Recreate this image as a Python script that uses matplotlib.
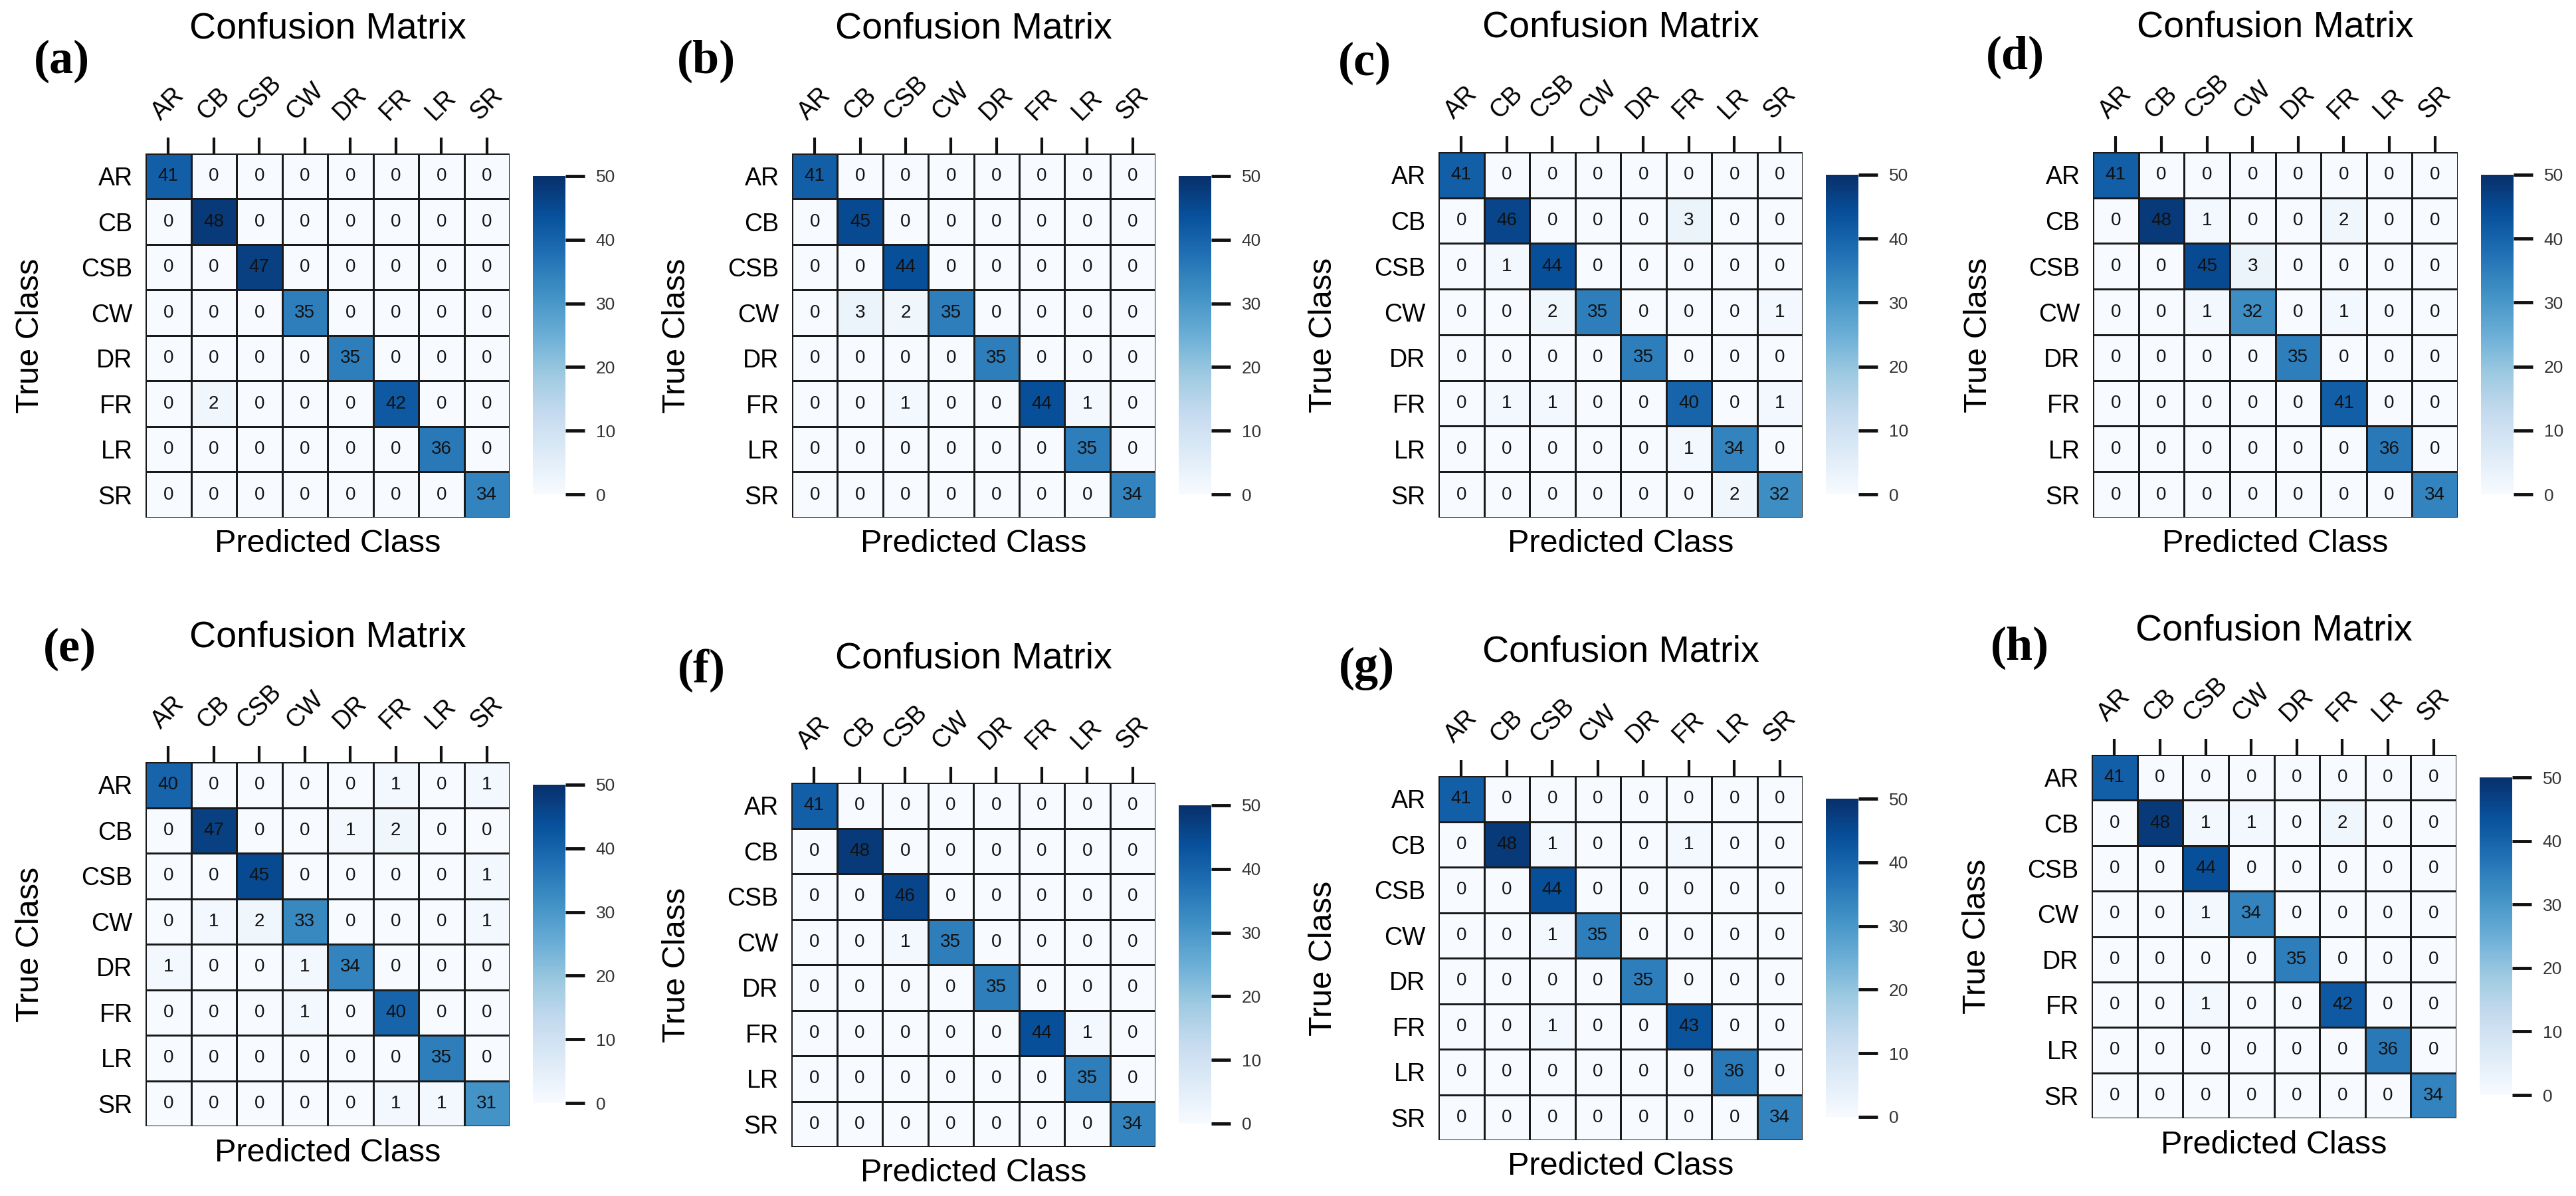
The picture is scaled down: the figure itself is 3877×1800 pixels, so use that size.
import numpy as np
import matplotlib
matplotlib.use("Agg")
import matplotlib.pyplot as plt

plt.rcParams['font.family'] = ['Liberation Sans', 'DejaVu Sans']

classes = ["AR", "CB", "CSB", "CW", "DR", "FR", "LR", "SR"]
panel_names = ["(a)", "(b)", "(c)", "(d)", "(e)", "(f)", "(g)", "(h)"]

cm_a = [[41, 0, 0, 0, 0, 0, 0, 0],
        [0, 48, 0, 0, 0, 0, 0, 0],
        [0, 0, 47, 0, 0, 0, 0, 0],
        [0, 0, 0, 35, 0, 0, 0, 0],
        [0, 0, 0, 0, 35, 0, 0, 0],
        [0, 2, 0, 0, 0, 42, 0, 0],
        [0, 0, 0, 0, 0, 0, 36, 0],
        [0, 0, 0, 0, 0, 0, 0, 34]]

cm_b = [[41, 0, 0, 0, 0, 0, 0, 0],
        [0, 45, 0, 0, 0, 0, 0, 0],
        [0, 0, 44, 0, 0, 0, 0, 0],
        [0, 3, 2, 35, 0, 0, 0, 0],
        [0, 0, 0, 0, 35, 0, 0, 0],
        [0, 0, 1, 0, 0, 44, 1, 0],
        [0, 0, 0, 0, 0, 0, 35, 0],
        [0, 0, 0, 0, 0, 0, 0, 34]]

cm_c = [[41, 0, 0, 0, 0, 0, 0, 0],
        [0, 46, 0, 0, 0, 3, 0, 0],
        [0, 1, 44, 0, 0, 0, 0, 0],
        [0, 0, 2, 35, 0, 0, 0, 1],
        [0, 0, 0, 0, 35, 0, 0, 0],
        [0, 1, 1, 0, 0, 40, 0, 1],
        [0, 0, 0, 0, 0, 1, 34, 0],
        [0, 0, 0, 0, 0, 0, 2, 32]]

cm_d = [[41, 0, 0, 0, 0, 0, 0, 0],
        [0, 48, 1, 0, 0, 2, 0, 0],
        [0, 0, 45, 3, 0, 0, 0, 0],
        [0, 0, 1, 32, 0, 1, 0, 0],
        [0, 0, 0, 0, 35, 0, 0, 0],
        [0, 0, 0, 0, 0, 41, 0, 0],
        [0, 0, 0, 0, 0, 0, 36, 0],
        [0, 0, 0, 0, 0, 0, 0, 34]]

cm_e = [[40, 0, 0, 0, 0, 1, 0, 1],
        [0, 47, 0, 0, 1, 2, 0, 0],
        [0, 0, 45, 0, 0, 0, 0, 1],
        [0, 1, 2, 33, 0, 0, 0, 1],
        [1, 0, 0, 1, 34, 0, 0, 0],
        [0, 0, 0, 1, 0, 40, 0, 0],
        [0, 0, 0, 0, 0, 0, 35, 0],
        [0, 0, 0, 0, 0, 1, 1, 31]]

cm_f = [[41, 0, 0, 0, 0, 0, 0, 0],
        [0, 48, 0, 0, 0, 0, 0, 0],
        [0, 0, 46, 0, 0, 0, 0, 0],
        [0, 0, 1, 35, 0, 0, 0, 0],
        [0, 0, 0, 0, 35, 0, 0, 0],
        [0, 0, 0, 0, 0, 44, 1, 0],
        [0, 0, 0, 0, 0, 0, 35, 0],
        [0, 0, 0, 0, 0, 0, 0, 34]]

cm_g = [[41, 0, 0, 0, 0, 0, 0, 0],
        [0, 48, 1, 0, 0, 1, 0, 0],
        [0, 0, 44, 0, 0, 0, 0, 0],
        [0, 0, 1, 35, 0, 0, 0, 0],
        [0, 0, 0, 0, 35, 0, 0, 0],
        [0, 0, 1, 0, 0, 43, 0, 0],
        [0, 0, 0, 0, 0, 0, 36, 0],
        [0, 0, 0, 0, 0, 0, 0, 34]]

cm_h = [[41, 0, 0, 0, 0, 0, 0, 0],
        [0, 48, 1, 1, 0, 2, 0, 0],
        [0, 0, 44, 0, 0, 0, 0, 0],
        [0, 0, 1, 34, 0, 0, 0, 0],
        [0, 0, 0, 0, 35, 0, 0, 0],
        [0, 0, 1, 0, 0, 42, 0, 0],
        [0, 0, 0, 0, 0, 0, 36, 0],
        [0, 0, 0, 0, 0, 0, 0, 34]]

matrices = [cm_a, cm_b, cm_c, cm_d, cm_e, cm_f, cm_g, cm_h]

W, H = 3877, 1800

# heatmap boxes in pixels: left, top, right, bottom
heat_boxes = [(219, 231, 767, 779), (1192, 231, 1739, 779),
              (2165, 229, 2713, 779), (3150, 229, 3699, 779),
              (219, 1147, 767, 1695), (1191, 1178, 1739, 1726),
              (2165, 1168, 2713, 1716), (3148, 1136, 3697, 1683)]
# panel letter centres in pixels
letter_pos = [(93, 92), (1063, 92), (2054, 95), (3033, 86),
              (105, 977), (1056, 1009), (2057, 1006), (3040, 975)]


def px_axes(l, t, r, b):
    return fig.add_axes([l / W, 1 - b / H, (r - l) / W, (b - t) / H])


fig = plt.figure(figsize=(W / 100, H / 100), dpi=100)

for k in range(8):
    cm = np.array(matrices[k])
    l, t, r, b = heat_boxes[k]
    ax = px_axes(l, t, r, b)
    mesh = ax.pcolormesh(cm, cmap="Blues", vmin=0, vmax=50,
                         edgecolors="#1a1a1a", linewidth=2.0)
    ax.set_xlim(0, 8)
    ax.set_ylim(8, 0)
    for i in range(8):
        for j in range(8):
            ax.text(j + 0.5, i + 0.5, str(cm[i, j]), ha="center", va="center",
                    fontsize=20, color="#111111")

    ax.xaxis.tick_top()
    ax.set_xticks(np.arange(8) + 0.5)
    ax.set_xticklabels(classes, rotation=45, fontsize=27)
    ax.set_yticks(np.arange(8) + 0.5)
    ax.set_yticklabels(classes, fontsize=27)
    ax.tick_params(axis="x", length=17, width=3, pad=14, color="#111111")
    ax.tick_params(axis="y", length=0, pad=14)
    for s in ax.spines.values():
        s.set_visible(False)

    ax.text(-173 / (r - l), 0.5, "True Class", transform=ax.transAxes,
            rotation=90, ha="center", va="center", fontsize=35)
    ax.text(0.5, -40 / (b - t), "Predicted Class", transform=ax.transAxes,
            ha="center", va="center", fontsize=35)
    ax.text(0.5, 1 + 187 / (b - t), "Confusion Matrix", transform=ax.transAxes,
            ha="center", va="center", fontsize=40)

    lx, ly = letter_pos[k]
    fig.text(lx / W, 1 - ly / H, panel_names[k], ha="center", va="center",
             fontsize=52, fontweight="bold", family="Liberation Serif")

    cax = px_axes(r + 35, t + 34, r + 84, b - 35)
    cb = fig.colorbar(mesh, cax=cax, ticks=[0, 10, 20, 30, 40, 50])
    cb.outline.set_visible(False)
    cax.tick_params(length=21, width=3.5, pad=12, labelsize=19,
                    color="#111111", labelcolor="#333333")

fig.savefig("out.png", dpi=100)
